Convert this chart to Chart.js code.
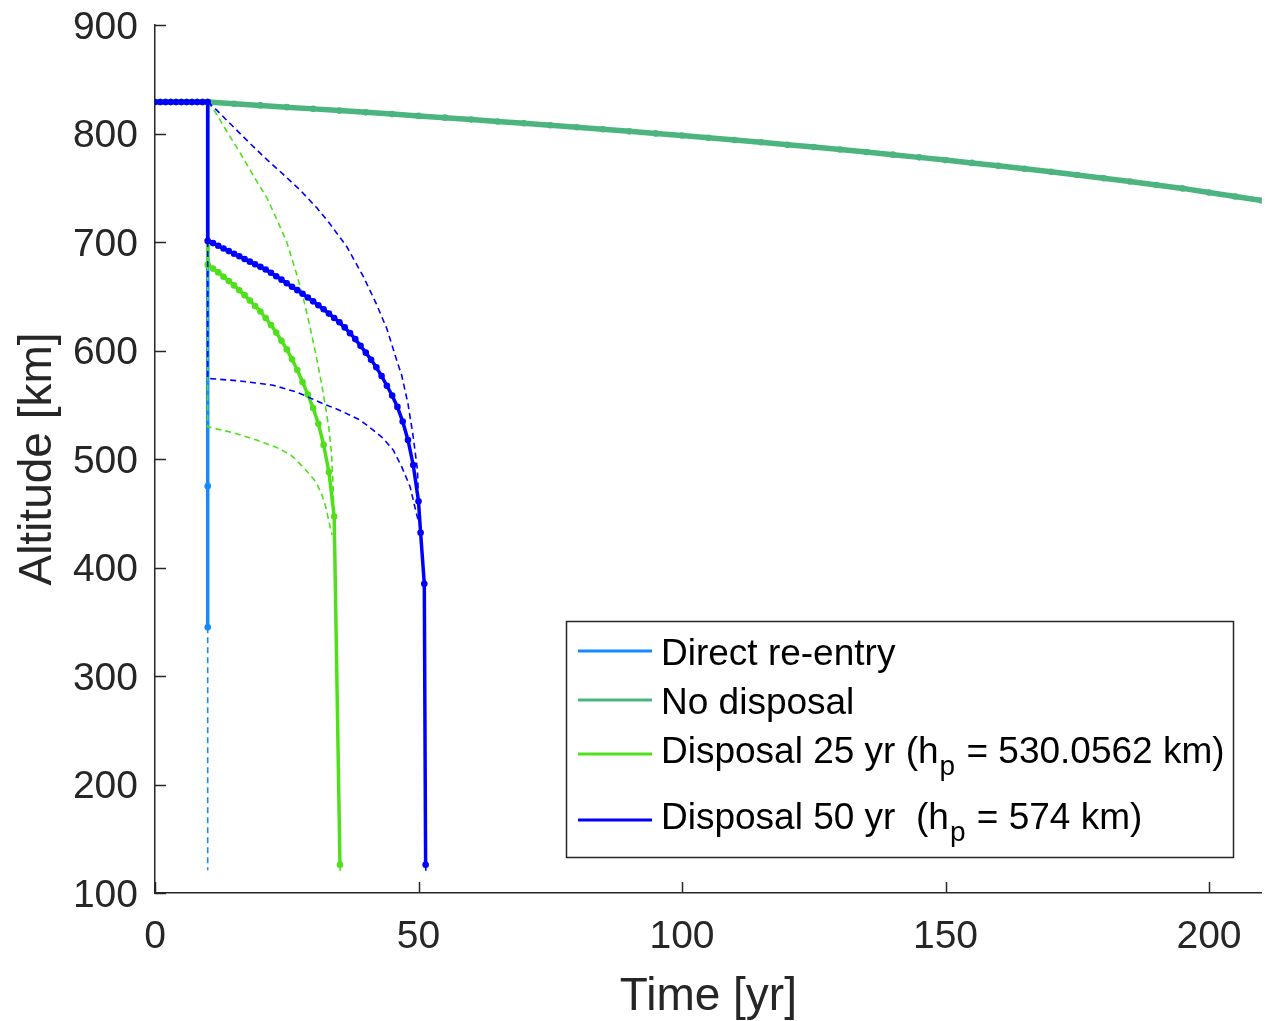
<!DOCTYPE html>
<html>
<head>
<meta charset="utf-8">
<script src="https://cdn.jsdelivr.net/npm/chart.js@4.4.0/dist/chart.umd.min.js"></script>
<style>
  html, body { margin: 0; padding: 0; background: #fff; }
  .chart { width: 1265px; height: 1021px; position: relative; }
</style>
</head>
<body>
<div class="chart"><canvas id="myChart"></canvas></div>
<script>
// axis ticks
const xTicks = [0, 50, 100, 150, 200];
const yTicks = [100, 200, 300, 400, 500, 600, 700, 800, 900];

// time before the disposal manoeuvre (same for every case)
const preT = [0, 1, 2, 3, 4, 5, 6, 7, 8, 9, 10];
const preH = [829, 829, 829, 829, 829, 829, 829, 829, 829, 829, 829];

// direct re-entry: straight drop at t = 10 yr
const directT = [10, 10, 10];
const directH = [829, 475, 345];
const directTailT = [10, 10];
const directTailH = [345, 121];

// no disposal
const noDispT = [10, 15, 20, 25, 30, 35, 40, 45, 50, 55, 60, 65, 70, 75, 80, 85, 90, 95, 100, 105,
  110, 115, 120, 125, 130, 135, 140, 145, 150, 155, 160, 165, 170, 175, 180, 185, 190, 195, 200, 205, 210];
const noDispH = [829, 827.4, 825.9, 824.3, 822.7, 821.1, 819.5, 817.9, 816.2, 814.6, 812.9, 811.1, 809.4,
  807.6, 805.8, 803.9, 802.0, 800.1, 798.1, 796.1, 794.0, 791.9, 789.7, 787.5, 785.2, 782.9, 780.5, 778.0,
  775.5, 772.9, 770.2, 767.5, 764.7, 761.8, 758.8, 755.8, 752.6, 749.4, 745.6, 741.9, 738.2];

// disposal 25 yr
const d25T = [10, 11, 12, 13, 14, 15, 16, 17, 18, 19, 20, 21, 22, 23, 24, 25, 26, 27, 28, 29, 30, 31, 32, 33, 34, 35.1];
const d25H = [679, 675.5, 672, 668, 664, 660, 655.5, 651, 646, 641, 636, 630, 623.5, 616.5, 609,
  601, 592, 582, 571, 559.5, 547, 532.5, 513, 488, 447, 126];
const d25TailT = [35.1, 35.15];
const d25TailH = [126, 120];
const d25UpT = [10, 11.4, 13.5, 16.1, 18.5, 21.2, 23.1, 25, 26.9, 28.2, 29.4, 30.5, 31.5, 32.3, 33, 33.5, 33.8, 34];
const d25UpH = [829, 820, 803, 782.5, 762.5, 741, 721, 700, 670, 647, 622, 597, 572, 550, 528, 505, 475, 432];
const d25LowT = [10, 10, 15, 19.3, 23.7, 26.2, 28.8, 30.5, 31.6, 32.4, 33.2, 33.6];
const d25LowH = [679, 529.7, 524, 517.5, 509.5, 502, 489, 479, 468, 456, 438, 430];

// disposal 50 yr
const d50T = [10, 11, 12, 13, 14, 15, 16, 17, 18, 19, 20, 21, 22, 23, 24, 25, 26, 27, 28, 29, 30,
  31, 32, 33, 34, 35, 36, 37, 38, 39, 40, 41, 42, 43, 44, 45, 46, 47, 48, 49, 50, 50.4, 51.1, 51.35];
const d50H = [701, 699, 696.5, 694, 691.6, 689.2, 686.8, 684.4, 681.9, 679.5, 677.1, 674.7, 671.6, 668.5,
  665.3, 662, 658.8, 655.6, 652.3, 648.8, 645.3, 641.7, 638, 634, 630, 626, 621.3, 616, 610.5, 604.3,
  598, 591.5, 584.5, 576.5, 567.5, 558.5, 548, 534.5, 517.5, 494.5, 461, 432, 385, 126];
const d50TailT = [51.35, 51.4];
const d50TailH = [126, 120];
const d50UpT = [10, 11.7, 15, 18, 21, 24.3, 27.5, 30.7, 33, 36.4, 39.6, 42, 44, 46, 46.8, 48, 49, 49.8, 50.15];
const d50UpH = [829, 821.6, 805.5, 791, 777, 762.5, 748, 731.5, 718, 695.6, 667.5, 643, 620, 589, 577.4, 551, 520.5, 490, 442];
const d50LowT = [10, 10, 16, 22.4, 27, 31.9, 35, 38.9, 41.4, 43.3, 45.2, 46.8, 48.4, 49.3, 49.8, 50.15];
const d50LowH = [701, 574.3, 572, 568, 561.5, 551, 545, 536, 526.7, 519, 508.3, 493, 474.5, 456, 446, 442];

const legendLabels = [
  ["Direct re-entry"],
  ["No disposal"],
  ["Disposal 25 yr (h", "p", " = 530.0562 km)"],
  ["Disposal 50 yr  (h", "p", " = 574 km)"],
];

const cDirect = "#158aff";
const cNoDisp = "#4cb47f";
const cD25 = "#4fe01b";
const cD50 = "#0000ff";
const axisColor = "#262626";
const fontFamily = "'Liberation Sans', Arial, Helvetica, sans-serif";

const pts = (xs, ys) => xs.map((x, i) => ({ x, y: ys[i] }));

const solid = (data, color, order, extra) => Object.assign({
  data, borderColor: color, backgroundColor: color, pointBackgroundColor: color,
  borderWidth: 3.5, pointRadius: 3.3, pointBorderWidth: 0, pointHoverRadius: 0, order,
}, extra || {});

const dashed = (data, color, order) => ({
  data, borderColor: color, backgroundColor: color, borderWidth: 1.6,
  borderDash: [6, 4], pointRadius: 0, pointHoverRadius: 0, order,
});

const datasets = [
  solid(pts(preT.concat(d50T), preH.concat(d50H)), cD50, 1),
  dashed(pts(d50TailT, d50TailH), cD50, 2),
  dashed(pts(d50UpT, d50UpH), cD50, 2),
  dashed(pts(d50LowT, d50LowH), cD50, 2),
  solid(pts(preT.concat(d25T), preH.concat(d25H)), cD25, 3),
  dashed(pts(d25TailT, d25TailH), cD25, 4),
  dashed(pts(d25UpT, d25UpH), cD25, 4),
  dashed(pts(d25LowT, d25LowH), cD25, 4),
  solid(pts(noDispT, noDispH), cNoDisp, 5, { borderWidth: 5.5 }),
  solid(pts(preT.concat(directT), preH.concat(directH)), cDirect, 6),
  dashed(pts(directTailT, directTailH), cDirect, 6),
];

// inward tick marks, MATLAB style
const innerTicks = {
  id: "innerTicks",
  afterDraw(chart) {
    const { ctx, chartArea, scales } = chart;
    ctx.save();
    ctx.strokeStyle = axisColor;
    ctx.lineWidth = 1.5;
    ctx.beginPath();
    scales.y.ticks.forEach((t) => {
      const py = Math.round(scales.y.getPixelForValue(t.value)) + 0.5;
      ctx.moveTo(chartArea.left, py);
      ctx.lineTo(chartArea.left + 11, py);
    });
    scales.x.ticks.forEach((t) => {
      const px = Math.round(scales.x.getPixelForValue(t.value)) + 0.5;
      ctx.moveTo(px, chartArea.bottom);
      ctx.lineTo(px, chartArea.bottom - 11);
    });
    ctx.stroke();
    ctx.restore();
  },
};

const legendBox = {
  id: "legendBox",
  afterDraw(chart) {
    const ctx = chart.ctx;
    const colors = [cDirect, cNoDisp, cD25, cD50];
    const lineY = [651, 700, 754, 820];
    const baseY = [665, 714, 763, 829];
    ctx.save();
    ctx.fillStyle = "#fff";
    ctx.fillRect(566, 621, 667, 236);
    ctx.strokeStyle = axisColor;
    ctx.lineWidth = 1.5;
    ctx.strokeRect(566.5, 621.5, 667, 236);
    legendLabels.forEach((parts, i) => {
      ctx.strokeStyle = colors[i];
      ctx.lineWidth = 3;
      ctx.beginPath();
      ctx.moveTo(578, lineY[i]);
      ctx.lineTo(652, lineY[i]);
      ctx.stroke();
      ctx.fillStyle = "#000";
      ctx.textBaseline = "alphabetic";
      ctx.textAlign = "left";
      let x = 661;
      parts.forEach((p, j) => {
        if (j === 1) {
          ctx.font = "28px " + fontFamily;
          ctx.fillText(p, x + 1, baseY[i] + 12);
          x += 2;
        } else {
          ctx.font = "37px " + fontFamily;
          ctx.fillText(p, x, baseY[i]);
        }
        x += ctx.measureText(p).width;
      });
    });
    ctx.restore();
  },
};

const tickFont = { family: fontFamily, size: 39 };

const config = {
  type: "line",
  data: { datasets },
  options: {
    responsive: true,
    maintainAspectRatio: false,
    animation: false,
    events: [],
    layout: { padding: { top: 25, right: 2, left: 0, bottom: 0 } },
    elements: { line: { tension: 0 } },
    plugins: { legend: { display: false }, tooltip: { enabled: false } },
    scales: {
      x: {
        type: "linear",
        min: 0,
        max: 210,
        afterBuildTicks: (s) => { s.ticks = xTicks.map((v) => ({ value: v })); },
        afterFit: (s) => { s.height = 128; },
        ticks: { padding: 21, font: tickFont, color: axisColor, maxRotation: 0, autoSkip: false },
        grid: { drawOnChartArea: false, drawTicks: false },
        border: { color: axisColor, width: 1.5 },
        title: {
          display: true, text: "Time [yr]", color: axisColor, padding: 0,
          font: { family: fontFamily, size: 46, lineHeight: 1.05 },
        },
      },
      y: {
        min: 100,
        max: 900,
        afterBuildTicks: (s) => { s.ticks = yTicks.map((v) => ({ value: v })); },
        afterFit: (s) => { s.width = 155; s.paddingTop = 0; s.paddingBottom = 0; },
        ticks: { padding: 17, labelOffset: 3, font: tickFont, color: axisColor, autoSkip: false },
        grid: { drawOnChartArea: false, drawTicks: false },
        border: { color: axisColor, width: 1.5 },
        title: {
          display: true, text: "Altitude [km]", color: axisColor, padding: { top: 11, bottom: 0 },
          font: { family: fontFamily, size: 46 },
        },
      },
    },
  },
  plugins: [innerTicks, legendBox],
};

const myChart = new Chart(document.getElementById("myChart"), config);
</script>
</body>
</html>
